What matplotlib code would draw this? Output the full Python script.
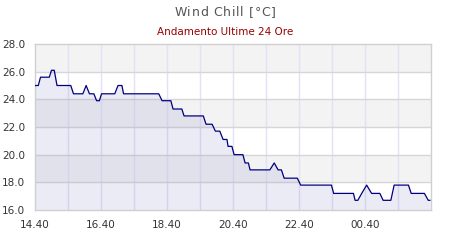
import matplotlib
matplotlib.use("Agg")
import matplotlib.pyplot as plt
import numpy as np

# minutes after 14:40
minutes = [0, 6, 10, 26, 30, 35, 40, 65, 70, 87, 93, 99, 107, 112, 117, 121,
           145, 151, 158, 161, 225, 231, 247, 251, 267, 271, 306, 311, 322, 328,
           336, 342, 349, 351, 358, 362, 378, 382, 388, 391, 427, 435, 442, 448,
           453, 477, 483, 539, 543, 579, 582, 587, 594, 603, 612, 627, 633, 647,
           653, 679, 684, 708, 715, 718]
values = [25.0, 25.0, 25.6, 25.6, 26.1, 26.1, 25.0, 25.0, 24.4, 24.4, 25.0, 24.4,
          24.4, 23.9, 23.9, 24.4, 24.4, 25.0, 25.0, 24.4, 24.4, 23.9, 23.9, 23.3,
          23.3, 22.8, 22.8, 22.2, 22.2, 21.7, 21.7, 21.1, 21.1, 20.6, 20.6, 20.0,
          20.0, 19.4, 19.4, 18.9, 18.9, 19.4, 18.9, 18.9, 18.3, 18.3, 17.8, 17.8,
          17.2, 17.2, 16.7, 16.7, 17.2, 17.8, 17.2, 17.2, 16.7, 16.7, 17.8, 17.8,
          17.2, 17.2, 16.7, 16.7]

x_tick_labels = ["14.40", "16.40", "18.40", "20.40", "22.40", "00.40"]
y_ticks = [16.0, 18.0, 20.0, 22.0, 24.0, 26.0, 28.0]
band_colors = ["white", "#f3f3f3"]
title = "Wind Chill [°C]"
subtitle = "Andamento Ultime 24 Ore"

fig = plt.figure(figsize=(4.5, 2.4), dpi=100)
ax = fig.add_axes([35/450, 30/240, 396/450, 166/240])

x = np.array(minutes) / 60.0
ax.set_xlim(0, 12)
ax.set_ylim(16, 28)

# alternating bands (bottom band white)
for i, lo in enumerate(y_ticks[:-1]):
    ax.axhspan(lo, lo + 2, color=band_colors[i % 2], lw=0, zorder=0)

for h in range(1, 12):
    ax.axvline(h, color="#e2e2f6", lw=1, zorder=1)
for v in y_ticks[1:-1]:
    ax.axhline(v, color="#d6d6d6", lw=1, zorder=1)

ax.fill_between(x, values, 16, color="#8989c4", alpha=0.17, lw=0, zorder=2)
ax.plot(x, values, color="#000080", lw=0.9, zorder=3)

ax.set_xticks(range(0, 12, 2))
ax.set_xticklabels(x_tick_labels)
ax.set_yticks(y_ticks)
ax.set_yticklabels([f"{v:.1f}" for v in y_ticks])
ax.tick_params(length=0, labelsize=7.5, colors="#333333")
ax.tick_params(axis="y", pad=7.2)
ax.tick_params(axis="x", pad=7)
for s in ax.spines.values():
    s.set_color("#d0d0d0")
    s.set_linewidth(1)

# letter-spaced title
fig.canvas.draw()
renderer = fig.canvas.get_renderer()
extra = 0.7  # px between characters
widths = []
for ch in title:
    t = fig.text(0, 0, ch if ch != " " else "a", fontsize=9)
    w = t.get_window_extent(renderer).width
    if ch == " ":
        t2 = fig.text(0, 0, "a a", fontsize=9)
        t3 = fig.text(0, 0, "aa", fontsize=9)
        w = t2.get_window_extent(renderer).width - t3.get_window_extent(renderer).width
        t2.remove(); t3.remove()
    t.remove()
    widths.append(w)
total = sum(widths) + extra * (len(title) - 1)
xpos = 225 - total / 2
for ch, w in zip(title, widths):
    if ch != " ":
        fig.text(xpos / 450, 1 - 13/240, ch, ha="left", va="center",
                 fontsize=9, color="#555555")
    xpos += w + extra

fig.text(0.5, 1 - 32/240, subtitle, ha="center", va="center", fontsize=7.5,
         color="#990000")

fig.savefig("out.png", dpi=100)
